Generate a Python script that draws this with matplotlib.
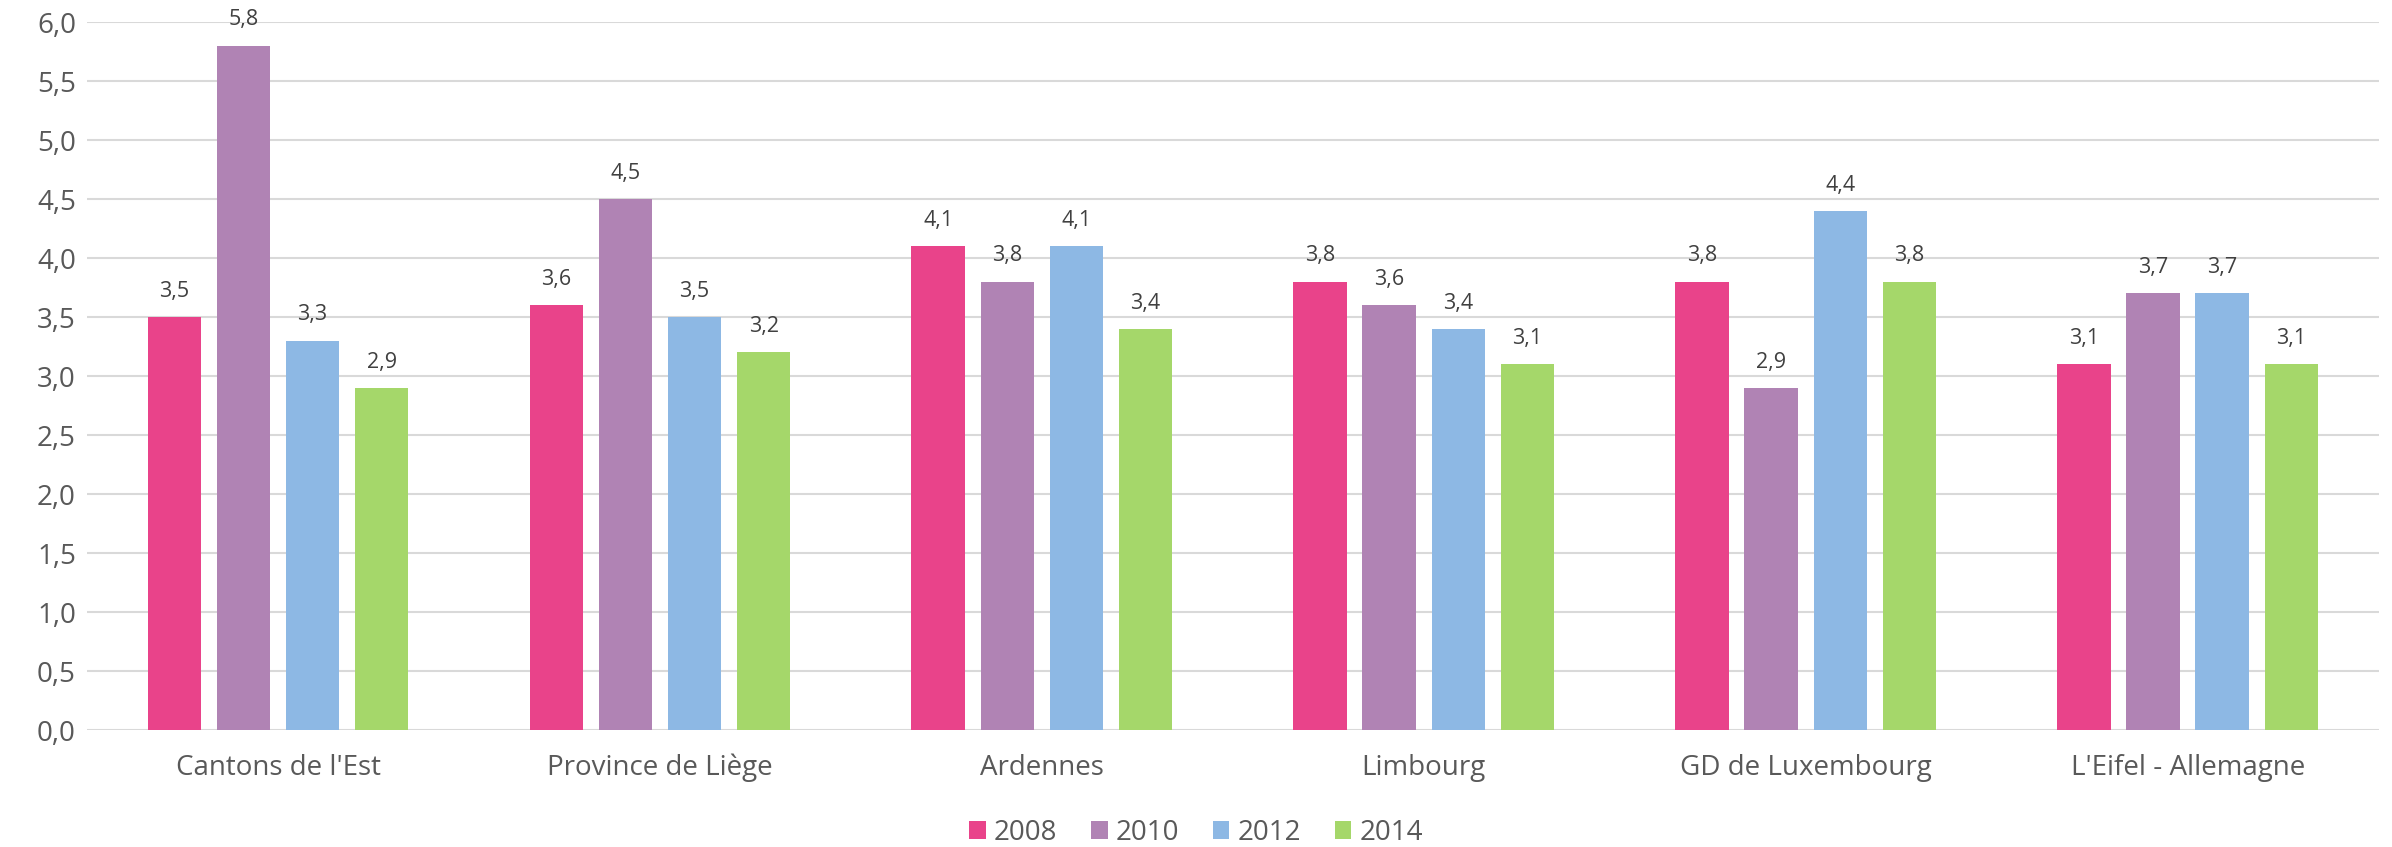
import numpy as np
import matplotlib.pyplot as plt

# data
categories = ["Cantons de l'Est", "Province de Liège", "Ardennes", "Limbourg",
              "GD de Luxembourg", "L'Eifel - Allemagne"]
years = ["2008", "2010", "2012", "2014"]
v2008 = [3.5, 3.6, 4.1, 3.8, 3.8, 3.1]
v2010 = [5.8, 4.5, 3.8, 3.6, 2.9, 3.7]
v2012 = [3.3, 3.5, 4.1, 3.4, 4.4, 3.7]
v2014 = [2.9, 3.2, 3.4, 3.1, 3.8, 3.1]
colors = ["#E9438A", "#B083B4", "#8DB8E4", "#A5D76A"]

plt.rcParams['font.family'] = ['Open Sans', 'DejaVu Sans']
txt = "#595959"

fig = plt.figure(figsize=(23.92, 8.47), dpi=100)
ax = fig.add_axes([0.0364, 0.138, 0.958, 0.836])

x = np.arange(len(categories))
width = 0.14
step = 0.181
for i, (vals, yr) in enumerate(zip([v2008, v2010, v2012, v2014], years)):
    bars = ax.bar(x + (i - 1.5) * step, vals, width, color=colors[i], label=yr, zorder=2)
    ax.bar_label(bars, labels=[f"{v:.1f}".replace(".", ",") for v in vals],
                 padding=11, fontsize=15.5, color="#404040")

ax.set_xlim(-0.5, len(categories) - 0.5)
ax.set_ylim(0, 6.0)
ax.set_yticks(np.arange(0, 6.01, 0.5))
ax.set_yticklabels([f"{t:.1f}".replace(".", ",") for t in np.arange(0, 6.01, 0.5)])
ax.set_xticks(x)
ax.set_xticklabels(categories)
ax.tick_params(axis='both', length=0, colors=txt, labelsize=20)
ax.tick_params(axis='x', pad=17)
ax.tick_params(axis='y', pad=8)
ax.grid(axis='y', color="#D9D9D9", linewidth=1.5, zorder=0)
ax.set_axisbelow(True)
for s in ax.spines.values():
    s.set_visible(False)

leg = fig.legend(loc='center', bbox_to_anchor=(0.5, 0.017), ncol=4, frameon=False,
                 fontsize=20, handlelength=0.6, handleheight=0.6, handletextpad=0.3,
                 columnspacing=1.2, borderaxespad=0)
for t in leg.get_texts():
    t.set_color(txt)

fig.savefig("out.png", dpi=100)
